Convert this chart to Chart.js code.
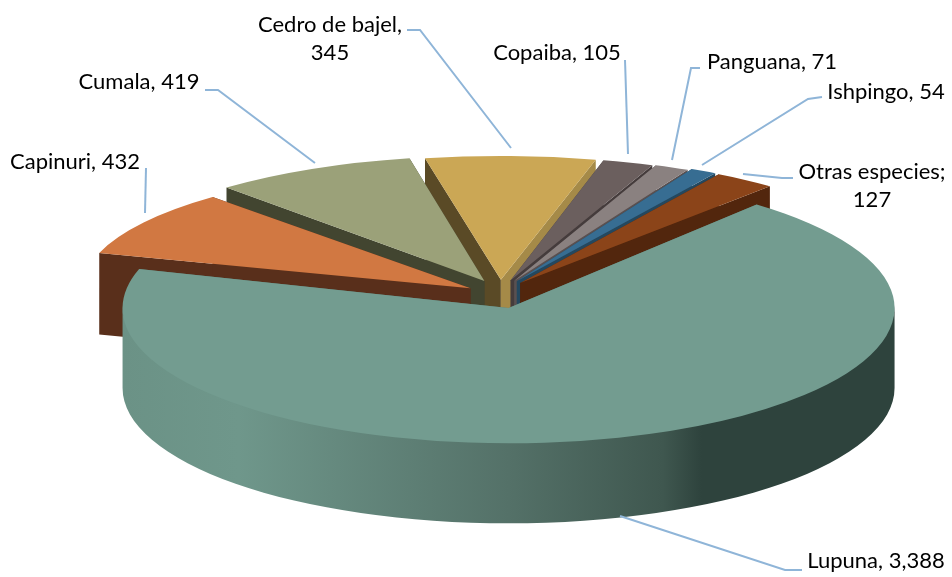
<!DOCTYPE html>
<html>
<head>
<meta charset="utf-8">
<style>
  html, body { margin: 0; padding: 0; background: #fff; }
  canvas { display: block; }
</style>
<script src="https://cdn.jsdelivr.net/npm/chart.js@4/dist/chart.umd.min.js"></script>
</head>
<body>
<canvas id="myChart" width="952" height="577"></canvas>
<script>
const categories = ["Lupuna", "Capinuri", "Cumala", "Cedro de bajel", "Copaiba", "Panguana", "Ishpingo", "Otras especies"];
const values = [3388, 432, 419, 345, 105, 71, 54, 127];

// label text as printed on the chart
const labelLines = [
  ["Lupuna, 3,388"],
  ["Capinuri, 432"],
  ["Cumala, 419"],
  ["Cedro de bajel,", "345"],
  ["Copaiba, 105"],
  ["Panguana, 71"],
  ["Ishpingo, 54"],
  ["Otras especies;", "127"]
];

// styling
const topColors = ["#739c90", "#d17842", "#9ba179", "#cba755", "#6b5f5e", "#8a8180", "#376d92", "#8b4419"];
const wallColors = ["#5a7a70", "#592f1b", "#424530", "#5a4a26", "#453c3c", "#5a5050", "#24485f", "#52260d"];
const endWallColors = [null, null, null, "#a58a48", null, null, null, null];
const explode = [30, 35, 35, 35, 35, 35, 35, 35];
const shiftY = [4, 1, -2, -2, -2, -2, -2, -1];
const widthScale = [1, 1.005, 1.005, 1.017, 0.995, 0.995, 1.005, 1.006];
const heightScale = [0.995, 0.9, 0.92, 0.91, 0.91, 0.915, 0.925, 0.93];
const depthScale = [1, 1.02, 0.935, 0.925, 0.925, 0.93, 0.94, 0.945];
const drawOrder = [3, 4, 2, 5, 6, 1, 7, 0];

const pieCenter = { x: 500, y: 294 };
const frontRadius = 386;
const tilt = 0.352;
const thickness = 80;

// label placement: text anchor and leader line, same order as categories
const labelX = [876, 75, 139, 330, 557, 772, 886, 872];
const labelY = [561, 162, 82, 25, 53, 62, 92, 172];
const leaders = [
  [[620, 516], [785, 570], [802, 570]],
  [[146, 168], [145, 213]],
  [[205, 90], [218, 90], [315, 163]],
  [[407, 30], [420, 30], [511, 148]],
  [[625, 60], [628, 154]],
  [[700, 68], [691, 68], [672, 160]],
  [[822, 97], [808, 99], [702, 165]],
  [[743, 174], [782, 178], [793, 178]]
];

function sideGradient(ctx) {
  const g = ctx.createLinearGradient(122, 0, 895, 0);
  g.addColorStop(0, "#6b9286");
  g.addColorStop(0.15, "#6f978b");
  g.addColorStop(0.5, "#547168");
  g.addColorStop(0.7, "#3f574f");
  g.addColorStop(0.75, "#2e433d");
  g.addColorStop(1, "#2e433d");
  return g;
}

const pie3d = {
  id: "pie3d",
  beforeDatasetsDraw(chart) {
    const ctx = chart.ctx;
    const arcs = chart.getDatasetMeta(0).data;
    drawOrder.forEach(function (i) {
      const el = arcs[i];
      const mid = (el.startAngle + el.endAngle) / 2;
      const sx = frontRadius * widthScale[i] / el.outerRadius;
      const sy = frontRadius * tilt * heightScale[i] / el.outerRadius;
      const rx = el.outerRadius * sx;
      const ry = el.outerRadius * sy;
      const d = thickness * depthScale[i];
      const ox = pieCenter.x + explode[i] * Math.cos(mid);
      const oy = pieCenter.y + explode[i] * Math.sin(mid) * tilt + shiftY[i];

      const edge = function (a, color) {
        const px = ox + rx * Math.cos(a);
        const py = oy + ry * Math.sin(a);
        ctx.fillStyle = color;
        ctx.beginPath();
        ctx.moveTo(ox, oy);
        ctx.lineTo(px, py);
        ctx.lineTo(px, py + d);
        ctx.lineTo(ox, oy + d);
        ctx.closePath();
        ctx.fill();
      };
      edge(el.startAngle, wallColors[i]);
      edge(el.endAngle, endWallColors[i] || wallColors[i]);

      // outer wall only where the rim faces the viewer
      // (starts a little under the top face so no seam shows along the rim)
      const a0 = Math.max(el.startAngle, 0);
      const a1 = Math.min(el.endAngle, Math.PI);
      if (a1 > a0) {
        ctx.fillStyle = i === 0 ? sideGradient(ctx) : wallColors[i];
        ctx.beginPath();
        ctx.ellipse(ox, oy - 3, rx, ry, 0, a0, a1);
        ctx.ellipse(ox, oy + d, rx, ry, 0, a1, a0, true);
        ctx.closePath();
        ctx.fill();
      }

      // top face is the library's own arc, squashed onto the tilted plane
      ctx.save();
      ctx.translate(ox, oy);
      ctx.scale(sx, sy);
      ctx.translate(-el.x, -el.y);
      el.draw(ctx);
      ctx.restore();
    });
    return false;
  },
  afterDraw(chart) {
    const ctx = chart.ctx;
    ctx.save();
    ctx.strokeStyle = "#8fb5d8";
    ctx.lineWidth = 2;
    leaders.forEach(function (pts) {
      ctx.beginPath();
      pts.forEach(function (p, k) {
        if (k === 0) ctx.moveTo(p[0], p[1]);
        else ctx.lineTo(p[0], p[1]);
      });
      ctx.stroke();
    });
    ctx.fillStyle = "#000";
    ctx.font = "22px Lato";
    ctx.textAlign = "center";
    ctx.textBaseline = "middle";
    labelLines.forEach(function (lines, i) {
      lines.forEach(function (t, k) {
        ctx.fillText(t, labelX[i], labelY[i] + k * 28);
      });
    });
    ctx.restore();
  }
};

new Chart(document.getElementById("myChart").getContext("2d"), {
  type: "pie",
  data: {
    labels: categories,
    datasets: [{
      data: values,
      backgroundColor: topColors,
      borderWidth: 0
    }]
  },
  options: {
    responsive: false,
    animation: false,
    rotation: 40,
    radius: 250,
    layout: { padding: 0 },
    plugins: {
      legend: { display: false },
      tooltip: { enabled: false }
    }
  },
  plugins: [pie3d]
});
</script>
</body>
</html>
